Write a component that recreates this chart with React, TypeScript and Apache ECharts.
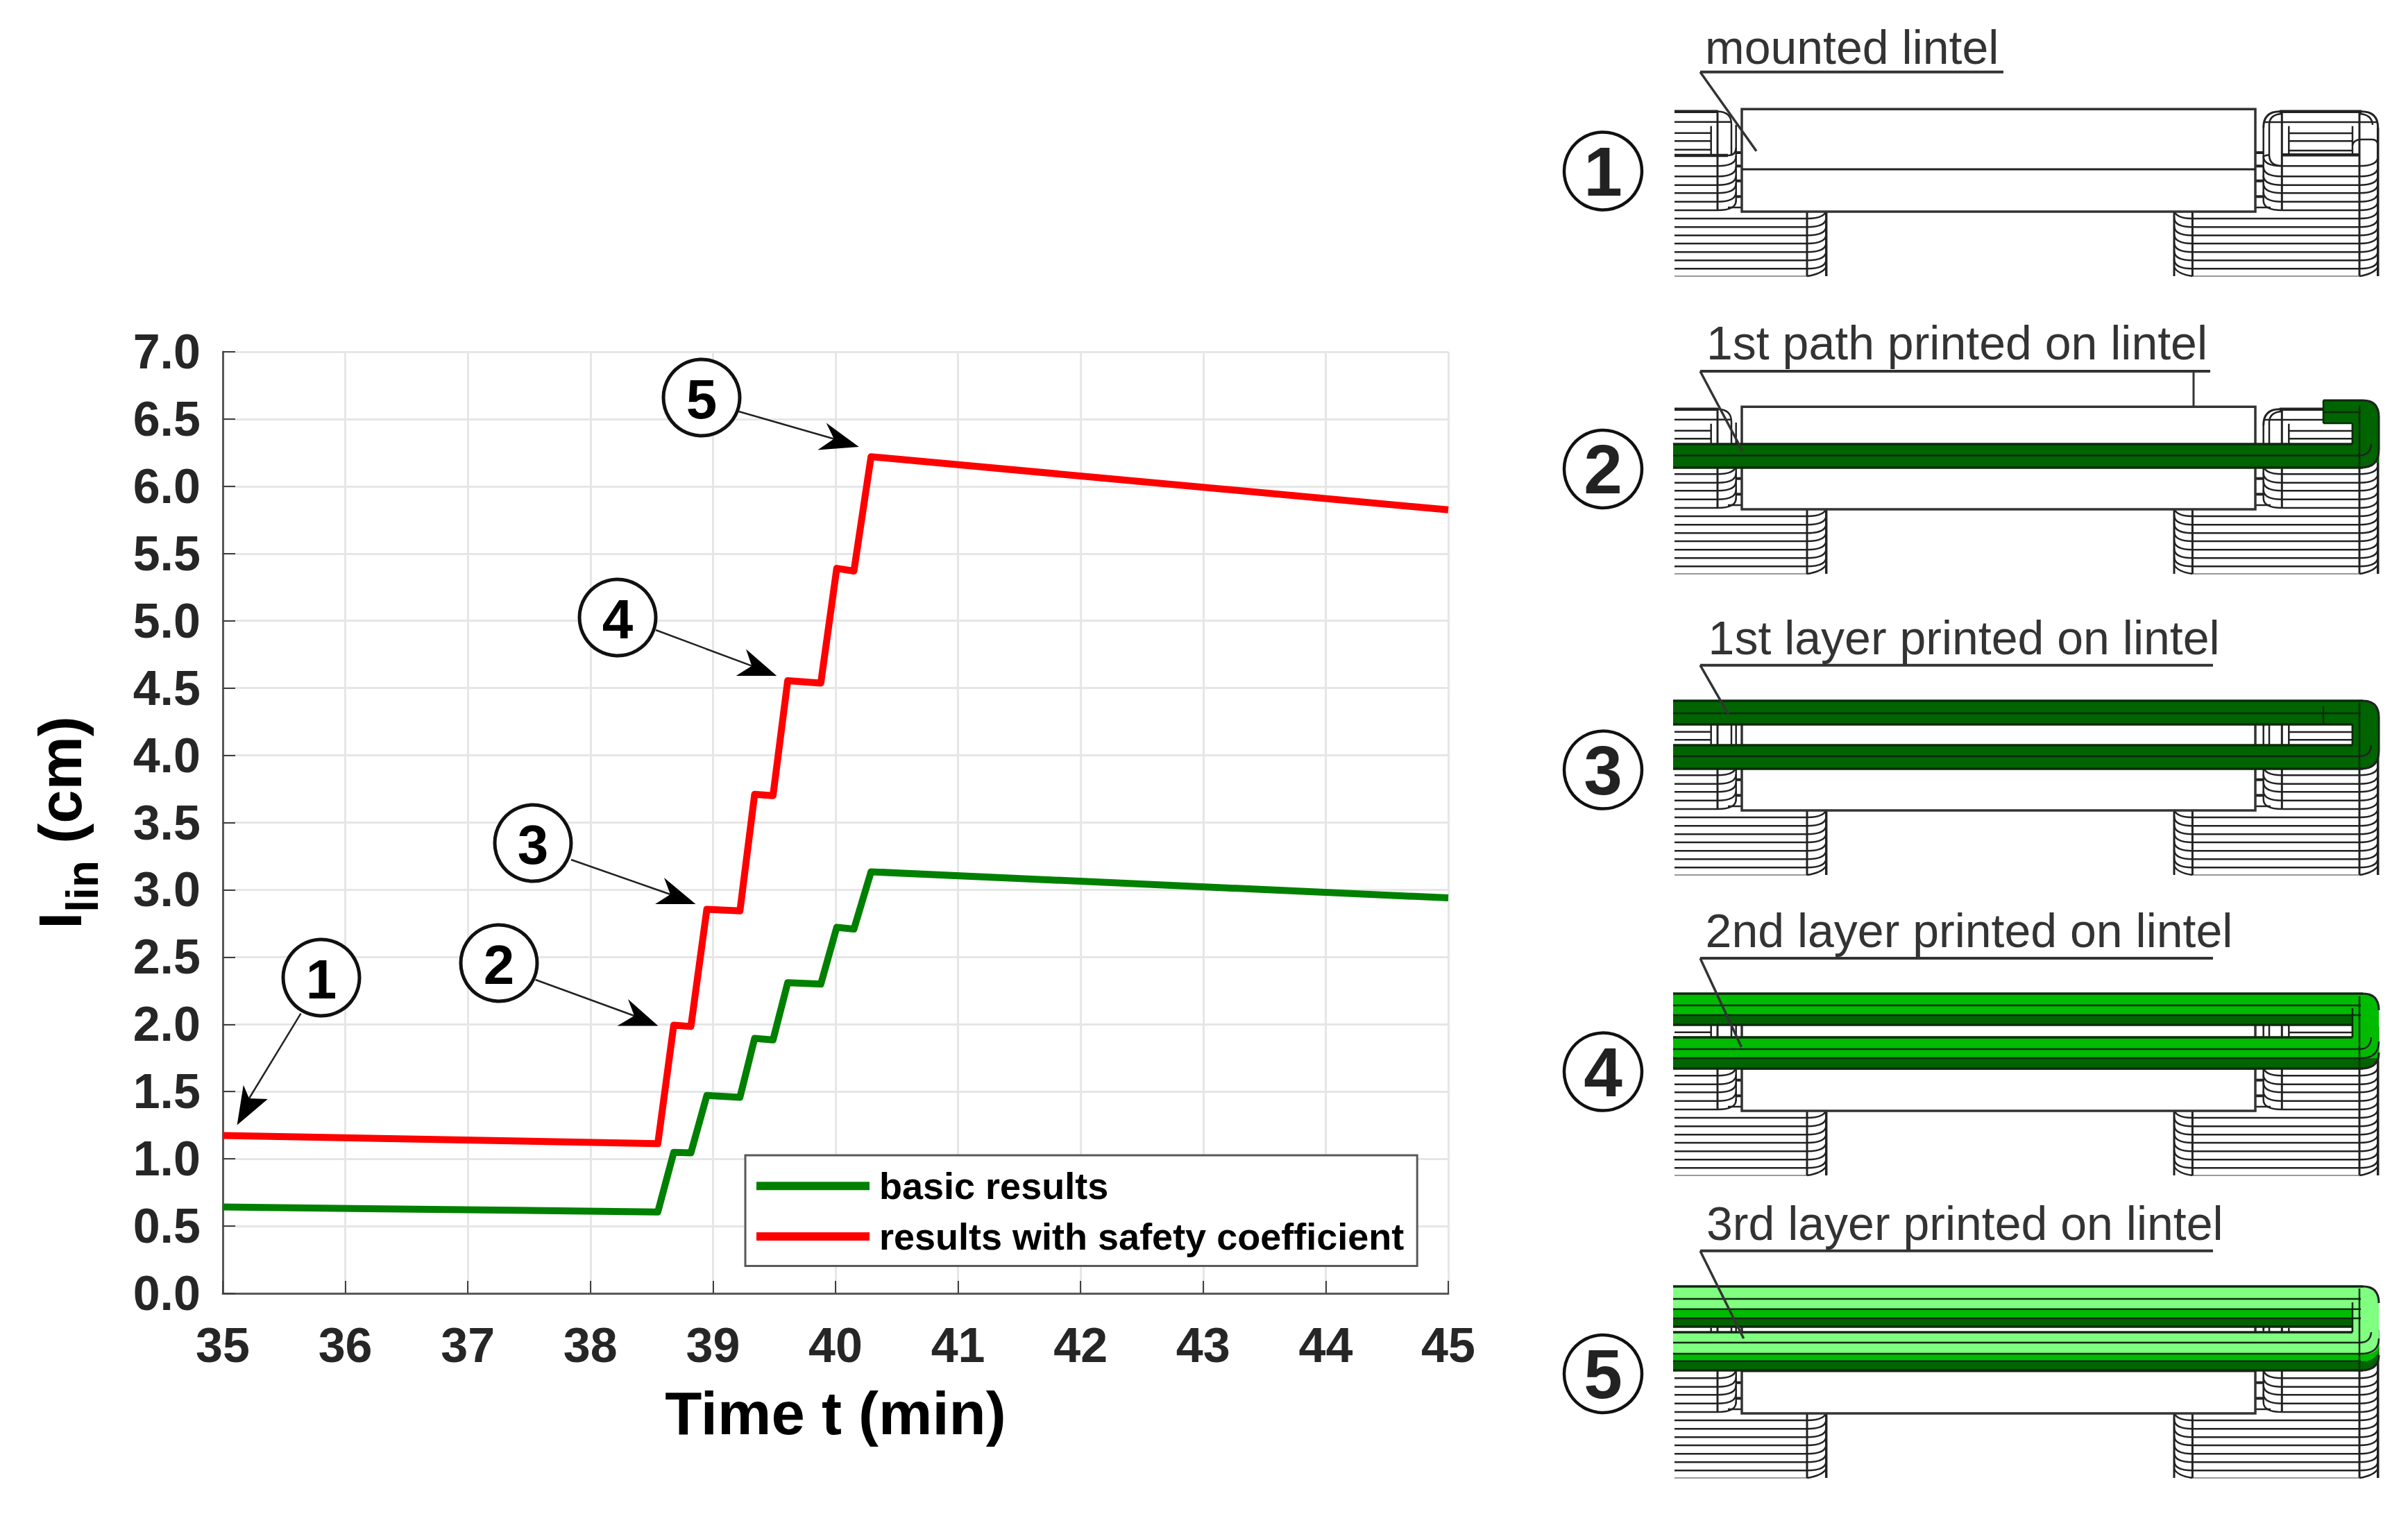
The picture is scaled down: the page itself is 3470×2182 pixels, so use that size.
import React, { useEffect, useRef } from "react";
import * as echarts from "echarts";

const seriesNames = ["basic results", "results with safety coefficient"];
const timePoints = [35, 38.55, 38.68, 38.82, 38.95, 39.22, 39.34, 39.49, 39.61, 39.88, 40.01, 40.15, 40.29, 45];
const basicValues = [0.642, 0.605, 1.048, 1.045, 1.471, 1.457, 1.896, 1.884, 2.31, 2.299, 2.721, 2.708, 3.134, 2.94];
const safetyValues = [1.174, 1.113, 1.994, 1.984, 2.855, 2.843, 3.71, 3.70, 4.555, 4.537, 5.39, 5.37, 6.22, 5.825];

const calloutNumbers = ["1", "2", "3", "4", "5"];
const panelLabels = [
  "mounted lintel",
  "1st path printed on lintel",
  "1st layer printed on lintel",
  "2nd layer printed on lintel",
  "3rd layer printed on lintel",
];

const FONT = '"Liberation Sans", Arial, sans-serif';
const INK = "#262626";
const DARK = "#006400";
const MID = "#00bb00";
const LIGHT = "#80ff80";

type El = any;
const line = (x1: number, y1: number, x2: number, y2: number, w = 2.5, stroke = "#222"): El => ({
  type: "line", z: 20, shape: { x1, y1, x2, y2 }, style: { stroke, lineWidth: w },
});
const curve = (x1: number, y1: number, cx: number, cy: number, x2: number, y2: number, w = 2.5): El => ({
  type: "bezierCurve", z: 20, shape: { x1, y1, x2, y2, cpx1: cx, cpy1: cy }, style: { stroke: "#222", lineWidth: w, fill: "none" },
});
const fillRect = (x: number, y: number, width: number, height: number, fill: string, r: number[] = [0, 0, 0, 0], z = 30): El => ({
  type: "rect", z, shape: { x, y, width, height, r }, style: { fill, stroke: "none" },
});
const text = (s: string, x: number, y: number, size: number, bold = false, fill = INK, align = "left", va = "middle"): El => ({
  type: "text", z: 60, style: { text: s, x, y, font: `${bold ? "bold " : ""}${size}px ${FONT}`, fill, align, verticalAlign: va },
});
const circle = (cx: number, cy: number, r: number, w: number): El => ({
  type: "circle", z: 50, shape: { cx, cy, r }, style: { fill: "#fff", stroke: "#111", lineWidth: w },
});
const head = (pts: number[][]): El => ({ type: "polygon", z: 55, shape: { points: pts }, style: { fill: "#000", stroke: "none" } });

function basePanel(B: number): El[] {
  const out: El[] = [];
  const XL = 2413, V1 = 2475, E1 = 2501.7, LX = 2510, RX = 3250, E2 = 3261.7, V4 = 3288.3, V5 = 3400, E3 = 3426.7;
  const upper = [-65.7, -50.7, -38.3, -26.7, -14.3, -2];
  const lower = [10, 22.3, 34.3, 46, 58.3, 70.3, 82.3];
  // left upper block
  out.push(line(XL, B - 144.3, V1, B - 144.3, 4.5), curve(V1, B - 144.3, 2495, B - 144.3, 2495, B - 126));
  out.push(line(XL, B - 129.3, 2495, B - 129.3));
  out.push(line(V1, B - 146, V1, B - 2, 3));
  out.push(line(2465.7, B - 123.3, 2465.7, B - 83));
  [-113.3, -101.7, -89.3].forEach((o) => out.push(line(XL, B + o, 2465.7, B + o)));
  out.push(line(XL, B - 81, 2490, B - 81, 4.5), curve(2490, B - 81, E1, B - 81, E1, B - 92));
  out.push(line(2495, B - 126, 2495, B - 81), line(E1, B - 125, E1, B - 14, 2.5));
  upper.forEach((o) => out.push(line(XL, B + o, V1, B + o), curve(V1, B + o, E1, B + o, E1, B + o - 14)));
  [-85, -65.7, -44.3, -21.7].forEach((o) => {
    out.push(line(E1, B + o, LX, B + o, 4), line(RX, B + o, E2, B + o, 4));
  });
  out.push(line(2490, B - 6, LX, B - 6), line(RX, B - 6, 3272, B - 6));
  // left lower block
  lower.forEach((o) => out.push(line(XL, B + o, 2604, B + o), curve(2604, B + o, 2631.7, B + o, 2631.7, B + o - 14)));
  out.push(line(XL, B + 93, 2604, B + 93, 1.5, "#777"));
  out.push(line(2604, B, 2604, B + 93, 3), line(2631.7, B, 2631.7, B + 93, 3.5));
  out.push(curve(2604, B + 93, 2625, B + 90, 2631.7, B + 80));
  // right upper frame
  out.push(line(3285, B - 144.3, 3403, B - 144.3, 4.5));
  out.push(curve(E2, B - 121, E2, B - 144.3, 3285, B - 144.3, 3), curve(3403, B - 144.3, E3, B - 144.3, E3, B - 121, 3));
  out.push(curve(3270, B - 125, 3270, B - 140, 3288, B - 141), curve(3400, B - 141, 3418, B - 140, 3419, B - 125));
  out.push(line(E2, B - 121, E2, B - 16, 2.5), line(E3, B - 121, E3, B + 93, 3.5));
  out.push(line(E2, B - 129, E3, B - 129));
  out.push(line(3270, B - 125, 3270, B - 82), curve(3270, B - 82, 3270, B - 66, 3288, B - 66));
  out.push(line(V4, B - 146, V4, B - 2, 3), line(V5, B - 146, V5, B + 93, 3));
  out.push(line(3298.3, B - 123.3, 3298.3, B - 83), line(3390, B - 123.3, 3390, B - 83));
  [-113, -101.7, -88].forEach((o) => out.push(line(3298.3, B + o, 3390, B + o)));
  out.push(line(V4, B - 81.7, V5, B - 81.7, 4.5));
  out.push(curve(3390, B - 96, 3392, B - 104, 3403, B - 104), line(3403, B - 104, 3418, B - 104), curve(3418, B - 104, 3426, B - 104, E3, B - 96));
  out.push(curve(E2, B - 78, E2, B - 81, 3270, B - 81.7));
  upper.forEach((o) => {
    out.push(line(V4, B + o, V5, B + o));
    out.push(curve(V4, B + o, E2, B + o, E2, B + o - 14), curve(V5, B + o, E3, B + o, E3, B + o - 14));
  });
  // right lower block
  lower.forEach((o) => {
    out.push(line(3159.4, B + o, V5, B + o));
    out.push(curve(3159.4, B + o, 3133, B + o, 3133, B + o - 14), curve(V5, B + o, E3, B + o, E3, B + o - 14));
  });
  out.push(line(3159.4, B + 93, V5, B + 93, 1.5, "#777"));
  out.push(line(3159.4, B, 3159.4, B + 93, 3), line(3133, B, 3133, B + 93, 3));
  out.push(curve(3133, B + 80, 3138, B + 90, 3159.4, B + 93), curve(V5, B + 93, 3420, B + 90, E3, B + 80));
  // lintel
  out.push({ type: "rect", z: 25, shape: { x: LX, y: B - 147.7, width: RX - LX, height: 147.7 }, style: { fill: "#fff", stroke: "#333", lineWidth: 3.5 } });
  out.push({ ...line(LX, B - 61, RX, B - 61, 3), z: 26 });
  return out;
}

const bL = 2411, bR = 3428, bIn = 3390;
const bl = (y: number, w = 2.5, x1 = bL, x2 = 3402): El => ({ ...line(x1, y, x2, y, w, "#0c2a0c"), z: 40 });
const bv = (x: number, y1: number, y2: number, w = 2.5): El => ({ ...line(x, y1, x, y2, w, "#0c2a0c"), z: 40 });
const bc = (x1: number, y1: number, cx: number, cy: number, x2: number, y2: number, w = 2.5): El => ({ ...curve(x1, y1, cx, cy, x2, y2, w), z: 40 });

function overlay(i: number, B: number): El[] {
  const o: El[] = [];
  if (i === 1) {
    o.push(fillRect(bIn, B - 157, bR - bIn, 90, DARK, [0, 22, 0, 0]), fillRect(3348, B - 157, bR - 3348, 33, DARK, [0, 22, 0, 0]));
    o.push(fillRect(bL, B - 94, bR - bL, 34, DARK, [0, 0, 24, 0]));
    o.push(bl(B - 94, 3.5, bL, 3390), bl(B - 77.5), bl(B - 60, 3.5, bL, 3405));
    o.push(bl(B - 157, 3, 3348, 3405), bv(3348, B - 157, B - 124), bl(B - 124, 2.5, 3348, 3390), bv(bIn, B - 124, B - 94));
    o.push(bl(B - 140, 2.5, 3348, 3402), bv(3400, B - 150, B - 60));
    o.push(bc(3400, B - 77.5, 3416, B - 78, 3417, B - 94), bc(3402, B - 60, bR, B - 60, bR, B - 86, 3));
    o.push(bc(3405, B - 157, bR, B - 157, bR, B - 133, 3), bv(bR, B - 133, B - 86, 3));
  }
  if (i === 2) {
    o.push(fillRect(bL, B - 158, bR - bL, 34, DARK, [0, 24, 0, 0]), fillRect(bIn, B - 158, bR - bIn, 80, DARK, [0, 24, 0, 0]));
    o.push(fillRect(bL, B - 94, bR - bL, 34, DARK, [0, 0, 24, 0]));
    o.push(bl(B - 158, 3.5, bL, 3405), bl(B - 140), bl(B - 124, 3.5, bL, bIn));
    o.push(bl(B - 94, 3.5, bL, bIn), bl(B - 78), bl(B - 60, 3.5, bL, 3405));
    o.push(bv(3348, B - 150, B - 124), bv(bIn, B - 124, B - 94), bv(3400, B - 155, B - 60));
    o.push(bc(3400, B - 78, 3416, B - 78, 3417, B - 94), bc(3402, B - 60, bR, B - 60, bR, B - 86, 3));
    o.push(bc(3405, B - 158, bR, B - 158, bR, B - 134, 3), bv(bR, B - 134, B - 86, 3));
  }
  if (i === 3) {
    o.push(fillRect(bL, B - 169, bR - bL, 45, MID, [0, 24, 0, 0]), fillRect(bIn, B - 169, bR - bIn, 90, MID, [0, 24, 0, 0]));
    o.push(fillRect(bL, B - 138, bIn - bL, 14, DARK, [0, 0, 0, 0], 31));
    o.push(fillRect(bL, B - 106, bR - bL, 45, DARK, [0, 0, 24, 0]), fillRect(bL, B - 106, bR - bL, 30, MID, [0, 0, 0, 0], 31));
    o.push(bl(B - 169, 3.5, bL, 3405), bl(B - 152), bl(B - 138), bl(B - 124, 3.5, bL, bIn));
    o.push(bl(B - 106, 3.5, bL, bIn), bl(B - 89), bl(B - 76), bl(B - 61, 3.5, bL, 3405));
    o.push(bv(bIn, B - 148, B - 106), bv(3400, B - 165, B - 61));
    o.push(bc(3400, B - 89, 3416, B - 89, 3417, B - 106), bc(3402, B - 76, bR, B - 76, bR, B - 100));
    o.push(bc(3402, B - 61, bR, B - 61, bR, B - 84, 3));
    o.push(bc(3405, B - 169, bR, B - 169, bR, B - 145, 3));
  }
  if (i === 4) {
    o.push(fillRect(bL, B - 183, bR - bL, 58, LIGHT, [0, 24, 0, 0]), fillRect(bIn, B - 183, bR - bIn, 95, LIGHT, [0, 24, 0, 0]));
    o.push(fillRect(bL, B - 150.3, bIn - bL, 13.3, MID, [0, 0, 0, 0], 31), fillRect(bL, B - 137, bIn - bL, 12, DARK, [0, 0, 0, 0], 31));
    o.push(fillRect(bL, B - 117, bR - bL, 55, DARK, [0, 0, 24, 0]), fillRect(bL, B - 117, bR - bL, 41.7, MID, [0, 0, 20, 0], 31), fillRect(bL, B - 117, bR - bL, 31, LIGHT, [0, 0, 16, 0], 32));
    o.push(bl(B - 183, 3.5, bL, 3405), bl(B - 165), bl(B - 150.3), bl(B - 137), bl(B - 125, 3.5, bL, bIn));
    o.push(bl(B - 117, 3.5, bL, bIn), bl(B - 102), bl(B - 86), bl(B - 75.3), bl(B - 62, 3.5, bL, 3405));
    o.push(bv(bIn, B - 160, B - 117), bv(3400, B - 180, B - 62));
    o.push(bc(3400, B - 102, 3416, B - 102, 3417, B - 117), bc(3402, B - 86, bR, B - 86, bR, B - 108));
    o.push(bc(3402, B - 62, bR, B - 62, bR, B - 84, 3));
    o.push(bc(3405, B - 183, bR, B - 183, bR, B - 159, 3));
  }
  return o;
}

const panelBottoms = [305, 734, 1168, 1601, 2037];
const panelNumY = [246.5, 676, 1109.6, 1544.6, 1980];
const labelX = [2457, 2459, 2461.6, 2457.6, 2459];
const labelBase = [90.6, 517, 942, 1363.6, 1786];
const underY = [103.7, 535, 958.7, 1381, 1802.7];
const underEnd = [2887, 3185, 3189, 3189, 3189];
const leaderTip = [[2531, 217.7], [2511, 650], [2491, 1030], [2509.5, 1509], [2512.6, 1929]];

const calloutCentres = [[463, 1409], [719, 1388], [768, 1215], [890, 890], [1011, 573]];
const arrows = [
  { from: [433.5, 1460.7], head: [[341.6, 1621.4], [350.8, 1563.8], [359, 1583], [385.8, 1584]], to: [359, 1583] },
  { from: [771.6, 1412], head: [[948.4, 1478.6], [905, 1440], [914, 1464], [889.5, 1478.6]], to: [914, 1464] },
  { from: [823, 1239], head: [[1002.5, 1303], [957, 1265], [966, 1289], [944, 1303]], to: [966, 1289] },
  { from: [945, 908], head: [[1119.3, 974], [1075, 935.6], [1083.3, 959.7], [1060.7, 974]], to: [1083.3, 959.7] },
  { from: [1064.5, 593], head: [[1237.7, 644], [1190.7, 609.6], [1201.7, 632.5], [1178.3, 648.6]], to: [1201.7, 632.5] },
];

function buildGraphics(): El[] {
  const g: El[] = [];
  calloutNumbers.forEach((n, i) => {
    const a = arrows[i];
    g.push({ ...line(a.from[0], a.from[1], a.to[0], a.to[1], 2.5, "#222"), z: 48 });
    g.push(head(a.head));
    g.push(circle(calloutCentres[i][0], calloutCentres[i][1], 55, 5));
    g.push(text(n, calloutCentres[i][0], calloutCentres[i][1] + 2, 80, true, "#000", "center"));
  });
  panelLabels.forEach((s, i) => {
    const B = panelBottoms[i];
    g.push(...basePanel(B), ...overlay(i, B));
    g.push({ ...circle(2310, panelNumY[i], 56, 4.5) });
    g.push(text(calloutNumbers[i], 2310, panelNumY[i], 100, true, "#222", "center"));
    g.push(text(s, labelX[i], labelBase[i] + 11, 68, false, "#333", "left", "bottom"));
    g.push({ ...line(2450, underY[i], underEnd[i], underY[i], 4, "#333"), z: 45 });
    g.push({ ...line(2450, underY[i], leaderTip[i][0], leaderTip[i][1], 3.5, "#333"), z: 45 });
    if (i === 1) g.push({ ...line(3161, underY[i], 3161, 586, 3, "#333"), z: 45 });
  });
  return g;
}

export default function App() {
  const ref = useRef<HTMLDivElement>(null);
  useEffect(() => {
    document.body.style.margin = "0";
    const chart = echarts.init(ref.current!, null, { renderer: "svg" });
    const toPairs = (vals: number[]) => timePoints.map((t, i) => [t, vals[i]]);
    chart.setOption({
      animation: false,
      backgroundColor: "#fff",
      textStyle: { fontFamily: FONT },
      grid: { left: 321, top: 507, width: 1766, height: 1357, outerBoundsMode: "none" },
      xAxis: {
        type: "value", min: 35, max: 45, interval: 1,
        name: "Time t (min)", nameLocation: "middle", nameGap: 129,
        nameTextStyle: { fontFamily: FONT, fontWeight: "bold", fontSize: 87, color: "#000" },
        axisLine: { show: true, lineStyle: { color: "#595959", width: 3 } },
        axisTick: { show: true, inside: true, length: 18, lineStyle: { color: "#404040", width: 2 } },
        axisLabel: { margin: 40, fontFamily: FONT, fontWeight: "bold", fontSize: 70, color: INK, showMinLabel: true, showMaxLabel: true, hideOverlap: false },
        splitLine: { show: true, lineStyle: { color: "#e6e6e6", width: 3 } },
      },
      yAxis: {
        type: "value", min: 0, max: 7, interval: 0.5,
        name: "{a|I}{b|lin}{a| (cm)}", nameLocation: "middle", nameGap: 170, nameRotate: 90,
        nameTextStyle: {
          rich: {
            a: { fontFamily: FONT, fontWeight: "bold", fontSize: 87, color: "#000" },
            b: { fontFamily: FONT, fontWeight: "bold", fontSize: 64, color: "#000", padding: [66, 0, 0, 0] },
          },
        },
        axisLine: { show: true, lineStyle: { color: "#595959", width: 3 } },
        axisTick: { show: true, inside: true, length: 18, lineStyle: { color: "#404040", width: 2 } },
        axisLabel: { margin: 32, fontFamily: FONT, fontWeight: "bold", fontSize: 70, color: INK, formatter: (v: number) => v.toFixed(1), showMinLabel: true, showMaxLabel: true },
        splitLine: { show: true, lineStyle: { color: "#e6e6e6", width: 3 } },
      },
      legend: {
        left: 1074, top: 1665, orient: "vertical", icon: "rect", itemWidth: 163, itemHeight: 12, itemGap: 0,
        padding: [8, 19, 6, 16], backgroundColor: "#fff", borderColor: "#595959", borderWidth: 3, borderRadius: 0,
        textStyle: { fontFamily: FONT, fontWeight: "bold", fontSize: 54, color: "#000", lineHeight: 72.7, padding: [0, 0, 0, 9] },
        data: seriesNames,
      },
      series: [
        { type: "line", name: seriesNames[0], data: toPairs(basicValues), showSymbol: false, itemStyle: { color: "#008000" }, lineStyle: { color: "#008000", width: 10, cap: "butt", join: "round" } },
        { type: "line", name: seriesNames[1], data: toPairs(safetyValues), showSymbol: false, itemStyle: { color: "#ff0000" }, lineStyle: { color: "#ff0000", width: 10, cap: "butt", join: "round" } },
      ],
      graphic: { elements: buildGraphics() },
    });
    return () => chart.dispose();
  }, []);
  return <div ref={ref} style={{ position: "absolute", left: 0, top: 0, width: 3470, height: 2182 }} />;
}
